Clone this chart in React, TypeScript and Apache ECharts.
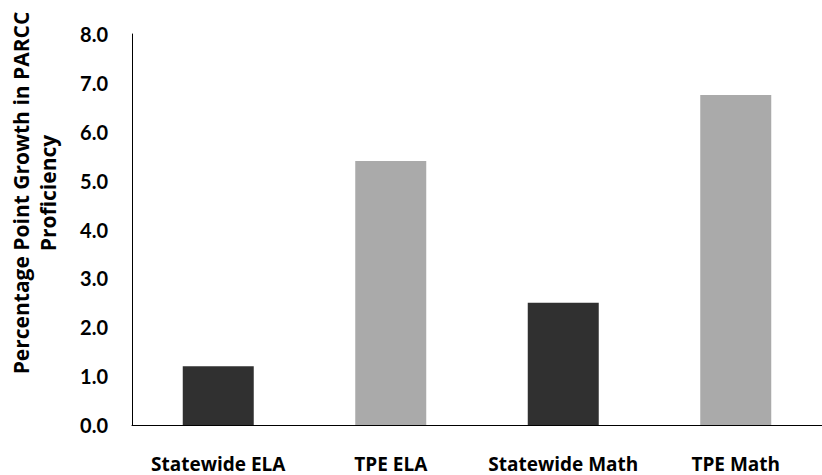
import React, { useEffect, useRef } from "react";
import * as echarts from "echarts";

const categories = ["Statewide ELA", "TPE ELA", "Statewide Math", "TPE Math"];
const growthValues = [1.2, 5.4, 2.5, 6.75];
const yAxisTitle = ["Percentage Point Growth in PARCC", "Proficiency"];

const FONT = "Lato, 'Noto Sans', sans-serif";
const WIDE = "'Open Sans', 'Noto Sans', sans-serif";

export default function App() {
  const ref = useRef<HTMLDivElement>(null);
  useEffect(() => {
    if (!ref.current) return;
    const chart = echarts.init(ref.current, null, { renderer: "svg" });
    chart.setOption({
      animation: false,
      backgroundColor: "#ffffff",
      grid: { left: 132, right: -4, top: 34, bottom: 50 },
      xAxis: {
        type: "category",
        data: categories,
        axisLine: { lineStyle: { color: "#000", width: 1 } },
        axisTick: { show: false },
        axisLabel: {
          interval: 0,
          color: "#000",
          fontFamily: WIDE,
          fontWeight: "bold",
          fontSize: 19,
          lineHeight: 21,
          margin: 28,
        },
      },
      yAxis: {
        type: "value",
        min: 0,
        max: 8,
        interval: 1,
        axisLine: { show: true, lineStyle: { color: "#000", width: 1 } },
        axisTick: { show: false },
        splitLine: { show: false },
        axisLabel: {
          color: "#000",
          fontFamily: FONT,
          fontWeight: "bold",
          fontSize: 20,
          margin: 24,
          formatter: (v: number) => v.toFixed(1),
        },
      },
      graphic: [
        {
          type: "text",
          x: 34,
          y: 193,
          rotation: Math.PI / 2,
          style: {
            text: yAxisTitle.join("\n"),
            fill: "#000",
            font: `bold 21px ${WIDE}`,
            align: "center",
            verticalAlign: "middle",
            lineHeight: 27,
          },
        },
      ],
      series: [
        {
          type: "bar",
          data: growthValues,
          barWidth: 71,
          itemStyle: {
            color: (p: any) =>
              String(p.name).startsWith("TPE") ? "#aaaaaa" : "#303030",
          },
        },
      ],
    });
    return () => chart.dispose();
  }, []);
  return (
    <div
      ref={ref}
      style={{ position: "absolute", left: 0, top: 0, width: 822, height: 475 }}
    />
  );
}
